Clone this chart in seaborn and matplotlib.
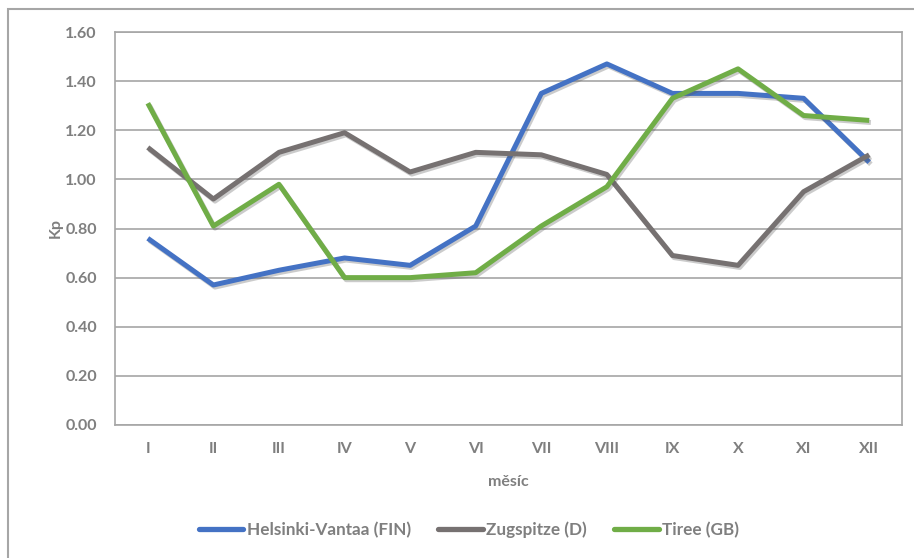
import matplotlib
matplotlib.use("Agg")
import matplotlib.pyplot as plt
import matplotlib.patheffects as pe
from matplotlib.lines import Line2D
from matplotlib.patches import Rectangle
import pandas as pd
import seaborn as sns

months = ["I", "II", "III", "IV", "V", "VI", "VII", "VIII", "IX", "X", "XI", "XII"]
helsinki = [0.76, 0.57, 0.63, 0.68, 0.65, 0.81, 1.35, 1.47, 1.35, 1.35, 1.33, 1.07]
zugspitze = [1.13, 0.92, 1.11, 1.19, 1.03, 1.11, 1.10, 1.02, 0.69, 0.65, 0.95, 1.10]
tiree = [1.31, 0.81, 0.98, 0.60, 0.60, 0.62, 0.81, 0.97, 1.33, 1.45, 1.26, 1.24]

stations = ["Helsinki-Vantaa (FIN)", "Zugspitze (D)", "Tiree (GB)"]
colors = ["#4472C4", "#767171", "#70AD47"]
text_gray = "#7F7F7F"
grid_gray = "#A6A6A6"

df = pd.DataFrame({
    "month": months * 3,
    "pos": list(range(12)) * 3,
    "kp": helsinki + zugspitze + tiree,
    "station": [s for s in stations for _ in months],
})

sns.set_theme(style="white")
plt.rcParams["font.family"] = ["Lato", "DejaVu Sans"]

fig = plt.figure(figsize=(9.14, 5.58), dpi=100)
ax = fig.add_axes([115 / 914, 1 - 425 / 558, 787 / 914, 393 / 558])

sns.lineplot(
    data=df,
    x="pos",
    y="kp",
    hue="station",
    hue_order=stations,
    palette=colors,
    linewidth=3.6,
    legend=False,
    ax=ax,
)

for line in ax.get_lines():
    line.set_solid_capstyle("butt")
    line.set_path_effects([
        pe.SimpleLineShadow(offset=(1.2, -1.5), shadow_color="#555555", alpha=0.3),
        pe.Normal(),
    ])

ax.set_xlim(-0.5, 11.5)
ax.set_ylim(0, 1.6)
ax.set_xticks(range(12))
ax.set_xticklabels(months)
ax.set_yticks([i * 0.2 for i in range(9)])
ax.set_yticklabels([f"{i * 0.2:.2f}" for i in range(9)])
ax.tick_params(axis="both", length=0, labelsize=11.5, labelcolor=text_gray)
ax.tick_params(axis="x", pad=12)
ax.tick_params(axis="y", pad=13)
for lab in ax.get_xticklabels() + ax.get_yticklabels():
    lab.set_fontweight("bold")

ax.yaxis.grid(True, color=grid_gray, linewidth=1.2)
ax.set_axisbelow(True)
for sp in ax.spines.values():
    sp.set_visible(True)
    sp.set_color(grid_gray)
    sp.set_linewidth(1.2)

ax.set_xlabel("měsíc", color=text_gray, fontsize=11.5, fontweight="bold", labelpad=14)
ax.set_ylabel("Kp", color=text_gray, fontsize=11.5, fontweight="bold", labelpad=2)

handles = [Line2D([0], [0], color=c, linewidth=3.8) for c in colors]
fig.legend(
    handles,
    stations,
    loc="center",
    bbox_to_anchor=(469 / 914, 1 - 530 / 558),
    ncol=3,
    frameon=False,
    handlelength=2.6,
    handletextpad=0.2,
    columnspacing=1.6,
    prop={"size": 12.3, "weight": "bold"},
    labelcolor=text_gray,
)

fig.patches.append(Rectangle(
    (8 / 914, -0.1), 1.2, 1 - 9 / 558 + 0.1,
    transform=fig.transFigure, fill=False, edgecolor=grid_gray, linewidth=1.5,
))

fig.savefig("out.png", dpi=100, facecolor="white")
